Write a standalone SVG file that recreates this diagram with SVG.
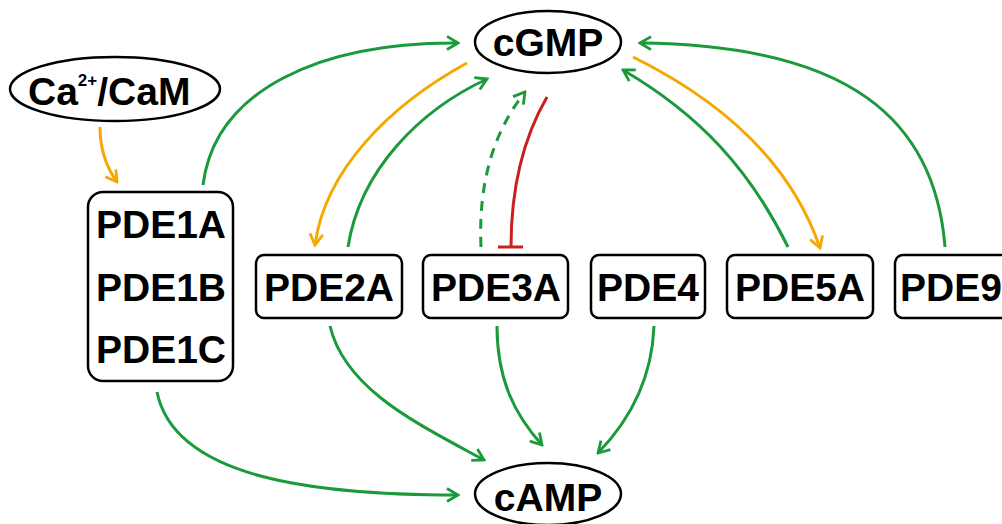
<svg xmlns="http://www.w3.org/2000/svg" width="1002" height="524" viewBox="0 0 1002 524">
<style>
.n{fill:#fff;stroke:#000;stroke-width:2.5}
.t{font-family:"Liberation Sans",Arial,sans-serif;font-weight:bold;font-size:39px;fill:#000;text-anchor:middle}
.g{fill:none;stroke:#1a9a3a;stroke-width:3}
.o{fill:none;stroke:#f5a800;stroke-width:3}
.r{fill:none;stroke:#c8201f;stroke-width:3}
</style>
<defs>
<marker id="ag" viewBox="0 0 16 16" refX="14" refY="8" markerWidth="16" markerHeight="16" markerUnits="userSpaceOnUse" orient="auto"><path d="M3,1.5 L14,8 L3,14.5" fill="none" stroke="#1a9a3a" stroke-width="2.8"/></marker>
<marker id="ao" viewBox="0 0 16 16" refX="14" refY="8" markerWidth="16" markerHeight="16" markerUnits="userSpaceOnUse" orient="auto"><path d="M3,1.5 L14,8 L3,14.5" fill="none" stroke="#f5a800" stroke-width="2.8"/></marker>
</defs>
<rect width="1002" height="524" fill="#fff"/>
<g id="connectors">
<path class="o" d="M100,127 C100,150 107,168 117,182" marker-end="url(#ao)"/>
<path class="g" d="M203,185 C215,90 320,42 458,43" marker-end="url(#ag)"/>
<path class="o" d="M467,63 C390,105 325,170 315,245" marker-end="url(#ao)"/>
<path class="g" d="M348,247 C360,170 420,110 487,79" marker-end="url(#ag)"/>
<path class="g" d="M481,247 C478,180 495,130 525,92" stroke-dasharray="10,8" marker-end="url(#ag)"/>
<path class="r" d="M547,97 C525,135 511,185 511,247 M498,247 L523,247"/>
<path class="g" d="M788,247 C750,170 700,115 623,70" marker-end="url(#ag)"/>
<path class="o" d="M633,57 C720,100 790,160 820,248" marker-end="url(#ao)"/>
<path class="g" d="M945,247 C935,120 850,45 640,43" marker-end="url(#ag)"/>
<path class="g" d="M157,392 C175,480 320,495 458,495" marker-end="url(#ag)"/>
<path class="g" d="M330,326 C345,390 420,425 484,460" marker-end="url(#ag)"/>
<path class="g" d="M497,326 C497,380 515,415 542,445" marker-end="url(#ag)"/>
<path class="g" d="M654,326 C652,380 630,420 598,453" marker-end="url(#ag)"/>
</g>
<g id="cgmp"><ellipse class="n" cx="548" cy="42" rx="73" ry="31"/><text class="t" x="548" y="56">cGMP</text></g>
<g id="camp"><ellipse class="n" cx="548" cy="494" rx="73" ry="31"/><text class="t" x="548" y="511">cAMP</text></g>
<g id="cacam"><ellipse class="n" cx="115" cy="89" rx="105" ry="32"/><text class="t" x="28" y="105" style="text-anchor:start">Ca<tspan font-size="17" dy="-19">2+</tspan><tspan dy="19">/CaM</tspan></text></g>
<g id="pde1"><rect class="n" x="88" y="192" width="145" height="189" rx="15"/><text class="t" x="161" y="238">PDE1A</text><text class="t" x="161" y="301">PDE1B</text><text class="t" x="161" y="363">PDE1C</text></g>
<g id="pde2a"><rect class="n" x="256" y="255" width="146" height="63" rx="8"/><text class="t" x="329" y="301">PDE2A</text></g>
<g id="pde3a"><rect class="n" x="423" y="255" width="145" height="63" rx="8"/><text class="t" x="496" y="301">PDE3A</text></g>
<g id="pde4"><rect class="n" x="591" y="255" width="114" height="63" rx="8"/><text class="t" x="648" y="301">PDE4</text></g>
<g id="pde5a"><rect class="n" x="727" y="255" width="146" height="63" rx="8"/><text class="t" x="800" y="301">PDE5A</text></g>
<g id="pde9"><rect class="n" x="895" y="255" width="146" height="63" rx="8"/><text class="t" x="900" y="301" style="text-anchor:start">PDE9</text></g>
</svg>
